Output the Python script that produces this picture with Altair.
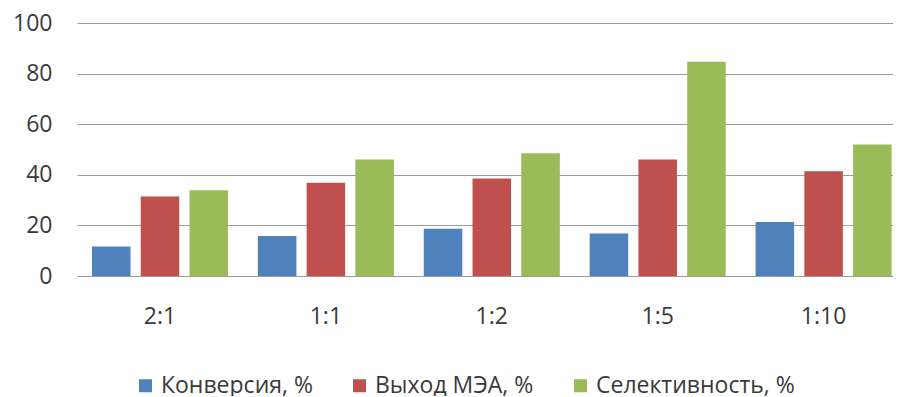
import altair as alt
import pandas as pd

categories = ["2:1", "1:1", "1:2", "1:5", "1:10"]
series = ["Конверсия, %", "Выход МЭА, %", "Селективность, %"]
conversion = [11.7, 15.8, 18.7, 16.8, 21.3]
yield_mea = [31.4, 36.9, 38.5, 46.0, 41.4]
selectivity = [33.9, 46.0, 48.5, 84.7, 52.0]
colors = ["#4F81BD", "#C0504D", "#9BBB59"]
y_ticks = [0, 20, 40, 60, 80, 100]

rows = []
for s, vals in zip(series, [conversion, yield_mea, selectivity]):
    for c, v in zip(categories, vals):
        rows.append({"cat": c, "series": s, "value": v})
df = pd.DataFrame(rows)

FONT = "Open Sans"
TXT = "#3a3a3a"
GRID = "#9a9a9a"

chart = alt.Chart(df).mark_bar().encode(
    x=alt.X(
        "cat:N",
        sort=categories,
        scale=alt.Scale(paddingInner=0.18, paddingOuter=0.0493, align=0.915, round=False),
        axis=alt.Axis(
            title=None, labelAngle=0, ticks=False, tickSize=0, labelPadding=29,
            labelFontSize=23, labelFont=FONT, labelColor=TXT,
            domainColor=GRID, domainWidth=1, grid=False,
        ),
    ),
    xOffset=alt.XOffset(
        "series:N", sort=series,
        scale=alt.Scale(paddingInner=0.21, paddingOuter=0, round=False),
    ),
    y=alt.Y(
        "value:Q",
        scale=alt.Scale(domain=[0, 100]),
        axis=alt.Axis(
            title=None, values=y_ticks, domain=False, ticks=False, labelPadding=25,
            labelFontSize=23, labelFont=FONT, labelColor=TXT,
            grid=True, gridColor=GRID, gridWidth=1,
        ),
    ),
    color=alt.Color(
        "series:N",
        sort=series,
        scale=alt.Scale(domain=series, range=colors),
        legend=alt.Legend(
            title=None, orient="none", direction="horizontal",
            legendX=57, legendY=351, padding=0,
            symbolType="square", symbolSize=169, symbolStrokeWidth=0, symbolOpacity=1,
            labelFontSize=23, labelFont=FONT, labelColor=TXT, labelLimit=400,
            labelOffset=4, columnPadding=35,
        ),
    ),
).properties(
    width=816,
    height=253,
    autosize=alt.AutoSizeParams(type="none"),
    padding={"left": 69, "top": 15, "right": 0, "bottom": 120},
    background="white",
).configure_view(stroke=None)

chart.save("out.html", embed_options={"renderer": "svg", "actions": False})
